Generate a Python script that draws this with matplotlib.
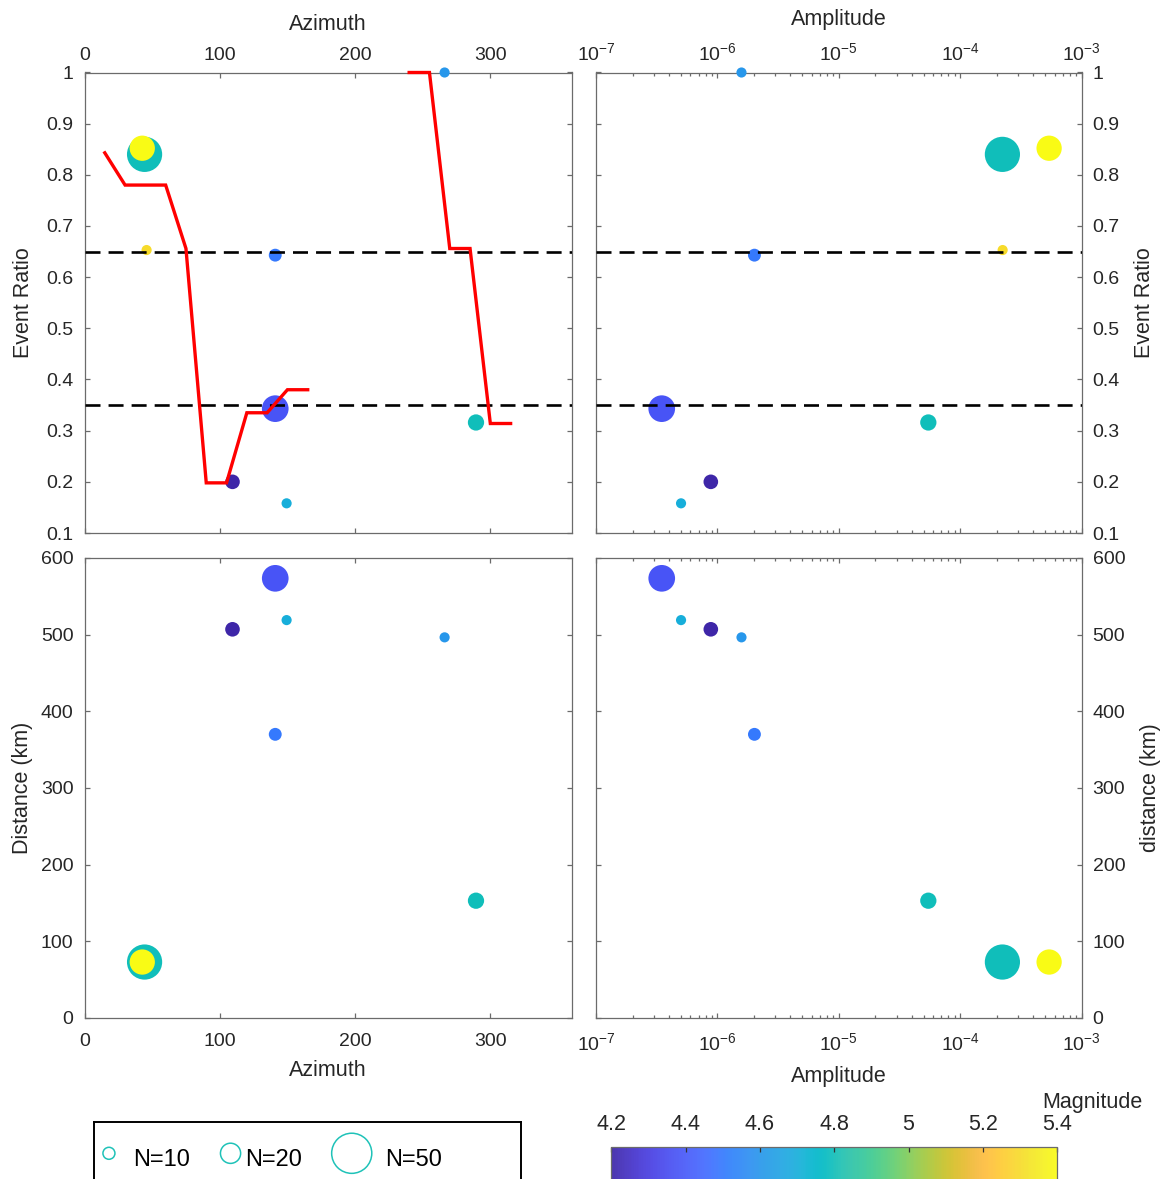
import numpy as np
import matplotlib
matplotlib.use("Agg")
import matplotlib.pyplot as plt
from matplotlib.colors import LinearSegmentedColormap, Normalize
from matplotlib.ticker import FixedLocator, FuncFormatter, LogLocator, LogFormatterSciNotation, NullFormatter

plt.rcParams["font.family"] = ["Liberation Sans", "DejaVu Sans"]
plt.rcParams["mathtext.fontset"] = "custom"
plt.rcParams["mathtext.rm"] = "Liberation Sans"
plt.rcParams["mathtext.it"] = "Liberation Sans:italic"
plt.rcParams["lines.scale_dashes"] = False

# ---- event catalogue -------------------------------------------------------
azimuth   = [45.9, 44.4, 42.7, 141.0, 141.0, 109.4, 149.4, 266.2, 289.4]
ratio     = [0.653, 0.840, 0.852, 0.643, 0.343, 0.200, 0.158, 1.000, 0.316]
amplitude = [2.24e-4, 2.23e-4, 5.41e-4, 2.02e-6, 3.48e-7, 8.83e-7, 5.02e-7, 1.58e-6, 5.47e-5]
distance  = [73, 73, 73, 370, 573.5, 507, 519, 496.5, 153]
magnitude = [5.3, 4.8, 5.4, 4.5, 4.38, 4.2, 4.7, 4.6, 4.8]
n_events  = [8, 42, 27, 11, 29, 13, 8, 8, 15]

# ratio averaged in 15-degree azimuth bins (no data between 180 and 225)
bin_azimuth = [15, 30, 45, 60, 75, 90, 105, 120, 135, 150, 165,
               180, 195, 210, 225, 240, 255, 270, 285, 300, 315]
bin_ratio   = [0.843, 0.78, 0.78, 0.78, 0.656, 0.198, 0.198, 0.335, 0.335, 0.38, 0.38,
               np.nan, np.nan, np.nan, np.nan, 1.0, 1.0, 0.656, 0.656, 0.314, 0.314]

thresholds    = [0.35, 0.65]
legend_counts = [10, 20, 50]
mag_ticks     = [4.2, 4.4, 4.6, 4.8, 5.0, 5.2, 5.4]

# ---- parula colour map ------------------------------------------------------
parula_rgb = [
    (0.2422, 0.1504, 0.6603), (0.2504, 0.1650, 0.7076), (0.2578, 0.1818, 0.7511), (0.2647, 0.1978, 0.7952),
    (0.2706, 0.2147, 0.8364), (0.2751, 0.2342, 0.8710), (0.2783, 0.2559, 0.8991), (0.2803, 0.2782, 0.9221),
    (0.2813, 0.3006, 0.9414), (0.2810, 0.3228, 0.9579), (0.2795, 0.3447, 0.9717), (0.2760, 0.3667, 0.9829),
    (0.2699, 0.3892, 0.9906), (0.2602, 0.4123, 0.9952), (0.2440, 0.4358, 0.9988), (0.2206, 0.4603, 0.9973),
    (0.1963, 0.4847, 0.9892), (0.1834, 0.5074, 0.9798), (0.1786, 0.5289, 0.9682), (0.1764, 0.5499, 0.9520),
    (0.1687, 0.5703, 0.9359), (0.1540, 0.5902, 0.9218), (0.1460, 0.6091, 0.9079), (0.1380, 0.6276, 0.8973),
    (0.1248, 0.6459, 0.8883), (0.1113, 0.6635, 0.8763), (0.0952, 0.6798, 0.8598), (0.0689, 0.6948, 0.8394),
    (0.0297, 0.7082, 0.8163), (0.0036, 0.7203, 0.7917), (0.0067, 0.7312, 0.7660), (0.0433, 0.7411, 0.7394),
    (0.0964, 0.7500, 0.7120), (0.1408, 0.7584, 0.6842), (0.1717, 0.7670, 0.6554), (0.1938, 0.7758, 0.6251),
    (0.2161, 0.7843, 0.5923), (0.2470, 0.7918, 0.5567), (0.2906, 0.7973, 0.5188), (0.3406, 0.8008, 0.4789),
    (0.3909, 0.8029, 0.4354), (0.4456, 0.8024, 0.3909), (0.5044, 0.7993, 0.3480), (0.5616, 0.7942, 0.3045),
    (0.6174, 0.7876, 0.2612), (0.6720, 0.7793, 0.2227), (0.7242, 0.7698, 0.1910), (0.7738, 0.7598, 0.1646),
    (0.8203, 0.7498, 0.1535), (0.8634, 0.7406, 0.1596), (0.9035, 0.7330, 0.1774), (0.9393, 0.7288, 0.2100),
    (0.9728, 0.7298, 0.2394), (0.9956, 0.7434, 0.2371), (0.9970, 0.7659, 0.2199), (0.9952, 0.7893, 0.2028),
    (0.9892, 0.8136, 0.1885), (0.9786, 0.8386, 0.1766), (0.9676, 0.8639, 0.1643), (0.9610, 0.8890, 0.1537),
    (0.9597, 0.9135, 0.1423), (0.9628, 0.9373, 0.1265), (0.9691, 0.9606, 0.1064), (0.9769, 0.9839, 0.0805),
]
parula = LinearSegmentedColormap.from_list("parula", parula_rgb, N=256)
norm = Normalize(vmin=4.2, vmax=5.4)

# ---- figure layout (pixel boxes) ---------------------------------------------
W, H, DPI = 1166, 1179, 100
fig = plt.figure(figsize=(W / DPI, H / DPI), dpi=DPI)


def box(left, top, right, bottom):
    return [left / W, 1 - bottom / H, (right - left) / W, (bottom - top) / H]


AX_GRAY = "#6b6b6b"
TXT = "#262626"
TICK_FS = 14
LABEL_FS = 15.5


def marker_area(n):
    # marker radius grows as N**0.75 (6 px for N=10)
    r_px = 6.0 * (np.asarray(n, dtype=float) / 10.0) ** 0.75
    return (2 * r_px * 72.0 / DPI) ** 2


def style(ax):
    for sp in ax.spines.values():
        sp.set_color(AX_GRAY)
        sp.set_linewidth(0.9)
    ax.tick_params(which="both", direction="in", top=True, bottom=True, left=True, right=True,
                   color=AX_GRAY, labelcolor=TXT, labelsize=TICK_FS, width=0.9, pad=8)
    ax.tick_params(axis="x", which="both", pad=10.5)
    ax.tick_params(which="major", length=3.8)
    ax.tick_params(which="minor", length=2.4)


plain = FuncFormatter(lambda v, _: f"{v:g}")

ax_ar = fig.add_axes(box(84.5, 72.5, 571.5, 533))
ax_mr = fig.add_axes(box(596, 72.5, 1081.5, 533))
ax_ad = fig.add_axes(box(84.5, 558, 571.5, 1018))
ax_md = fig.add_axes(box(596, 558, 1081.5, 1018))

sizes = marker_area(n_events)
panels = [(ax_ar, azimuth, ratio), (ax_mr, amplitude, ratio),
          (ax_ad, azimuth, distance), (ax_md, amplitude, distance)]
for ax, xs, ys in panels:
    style(ax)
    ax.scatter(xs, ys, s=sizes, c=magnitude, cmap=parula, norm=norm, linewidths=0,
               zorder=3, clip_on=False)

# thresholds on the ratio panels
for ax in (ax_ar, ax_mr):
    for t in thresholds:
        ax.axhline(t, color="black", lw=1.9, dashes=(10.8, 5.8), zorder=4)

ax_ar.plot(bin_azimuth, bin_ratio, color="red", lw=2.4, zorder=5,
           solid_joinstyle="miter", clip_on=False)

# azimuth axes
for ax in (ax_ar, ax_ad):
    ax.set_xlim(0, 360)
    ax.xaxis.set_major_locator(FixedLocator([0, 100, 200, 300]))
    ax.xaxis.set_major_formatter(plain)

# amplitude axes
for ax in (ax_mr, ax_md):
    ax.set_xscale("log")
    ax.set_xlim(1e-7, 1e-3)
    ax.xaxis.set_major_locator(LogLocator(base=10, numticks=10))
    ax.xaxis.set_minor_locator(LogLocator(base=10, subs=np.arange(2, 10), numticks=100))
    ax.xaxis.set_major_formatter(LogFormatterSciNotation())
    ax.xaxis.set_minor_formatter(NullFormatter())

for ax in (ax_ar, ax_mr):
    ax.set_ylim(0.1, 1)
    ax.yaxis.set_major_locator(FixedLocator(np.round(np.arange(0.1, 1.01, 0.1), 1)))
    ax.yaxis.set_major_formatter(plain)
    ax.tick_params(axis="x", which="both", labeltop=True, labelbottom=False, pad=6)
    ax.xaxis.set_label_position("top")

for ax in (ax_ad, ax_md):
    ax.set_ylim(0, 600)
    ax.yaxis.set_major_locator(FixedLocator([0, 100, 200, 300, 400, 500, 600]))
    ax.yaxis.set_major_formatter(plain)

for ax in (ax_mr, ax_md):
    ax.tick_params(axis="y", labelright=True, labelleft=False)
    ax.yaxis.set_label_position("right")

# axis titles
ax_ar.set_xlabel("Azimuth", fontsize=LABEL_FS, color=TXT)
ax_ar.xaxis.set_label_coords(0.5, 1.093)
ax_mr.set_xlabel("Amplitude", fontsize=LABEL_FS, color=TXT)
ax_mr.xaxis.set_label_coords(0.5, 1.103)
ax_ad.set_xlabel("Azimuth", fontsize=LABEL_FS, color=TXT)
ax_ad.xaxis.set_label_coords(0.5, -0.092)
ax_md.set_xlabel("Amplitude", fontsize=LABEL_FS, color=TXT)
ax_md.xaxis.set_label_coords(0.5, -0.105)

ax_ar.set_ylabel("Event Ratio", fontsize=LABEL_FS, color=TXT)
ax_ar.yaxis.set_label_coords(-0.103, 0.5)
ax_mr.set_ylabel("Event Ratio", fontsize=LABEL_FS, color=TXT)
ax_mr.yaxis.set_label_coords(1.109, 0.5)
ax_ad.set_ylabel("Distance (km)", fontsize=LABEL_FS, color=TXT)
ax_ad.yaxis.set_label_coords(-0.106, 0.5)
ax_md.set_ylabel("distance (km)", fontsize=LABEL_FS, color=TXT)
ax_md.yaxis.set_label_coords(1.12, 0.5)

# ---- magnitude colour bar -------------------------------------------------------
cax = fig.add_axes(box(611.4, 1146.6, 1057.2, 1190))
sm = plt.cm.ScalarMappable(norm=norm, cmap=parula)
cb = fig.colorbar(sm, cax=cax, orientation="horizontal", ticks=mag_ticks, alpha=0.92)
cax.xaxis.set_ticks_position("top")
cax.xaxis.set_label_position("top")
cax.xaxis.set_major_formatter(plain)
cb.outline.set_edgecolor(AX_GRAY)
cb.outline.set_linewidth(0.9)
cax.tick_params(axis="x", direction="in", length=3.8, width=0.9, color="#333333",
                labelcolor=TXT, labelsize=15.5, pad=8)
cb.set_label("Magnitude", fontsize=LABEL_FS, color=TXT)
cax.xaxis.set_label_coords(1.078, 1.9)

# ---- marker-size key ------------------------------------------------------------
lax = fig.add_axes(box(94, 1121.7, 520.7, 1195))
lax.set_xlim(0, 1)
lax.set_ylim(0, 1)
lax.set_xticks([])
lax.set_yticks([])
for sp in lax.spines.values():
    sp.set_color("black")
    sp.set_linewidth(1.4)
key_marker_x = [0.035, 0.320, 0.604]
key_text_x = [0.091, 0.355, 0.682]
for n, mx, tx in zip(legend_counts, key_marker_x, key_text_x):
    lax.scatter([mx], [0.569], s=marker_area([n]), facecolors="none",
                edgecolors="#1fc2b8", linewidths=1.1, clip_on=False)
    lax.text(tx, 0.396, f"N={n}", fontsize=17, color="black", va="baseline", ha="left")

fig.savefig("out.png", dpi=DPI)
